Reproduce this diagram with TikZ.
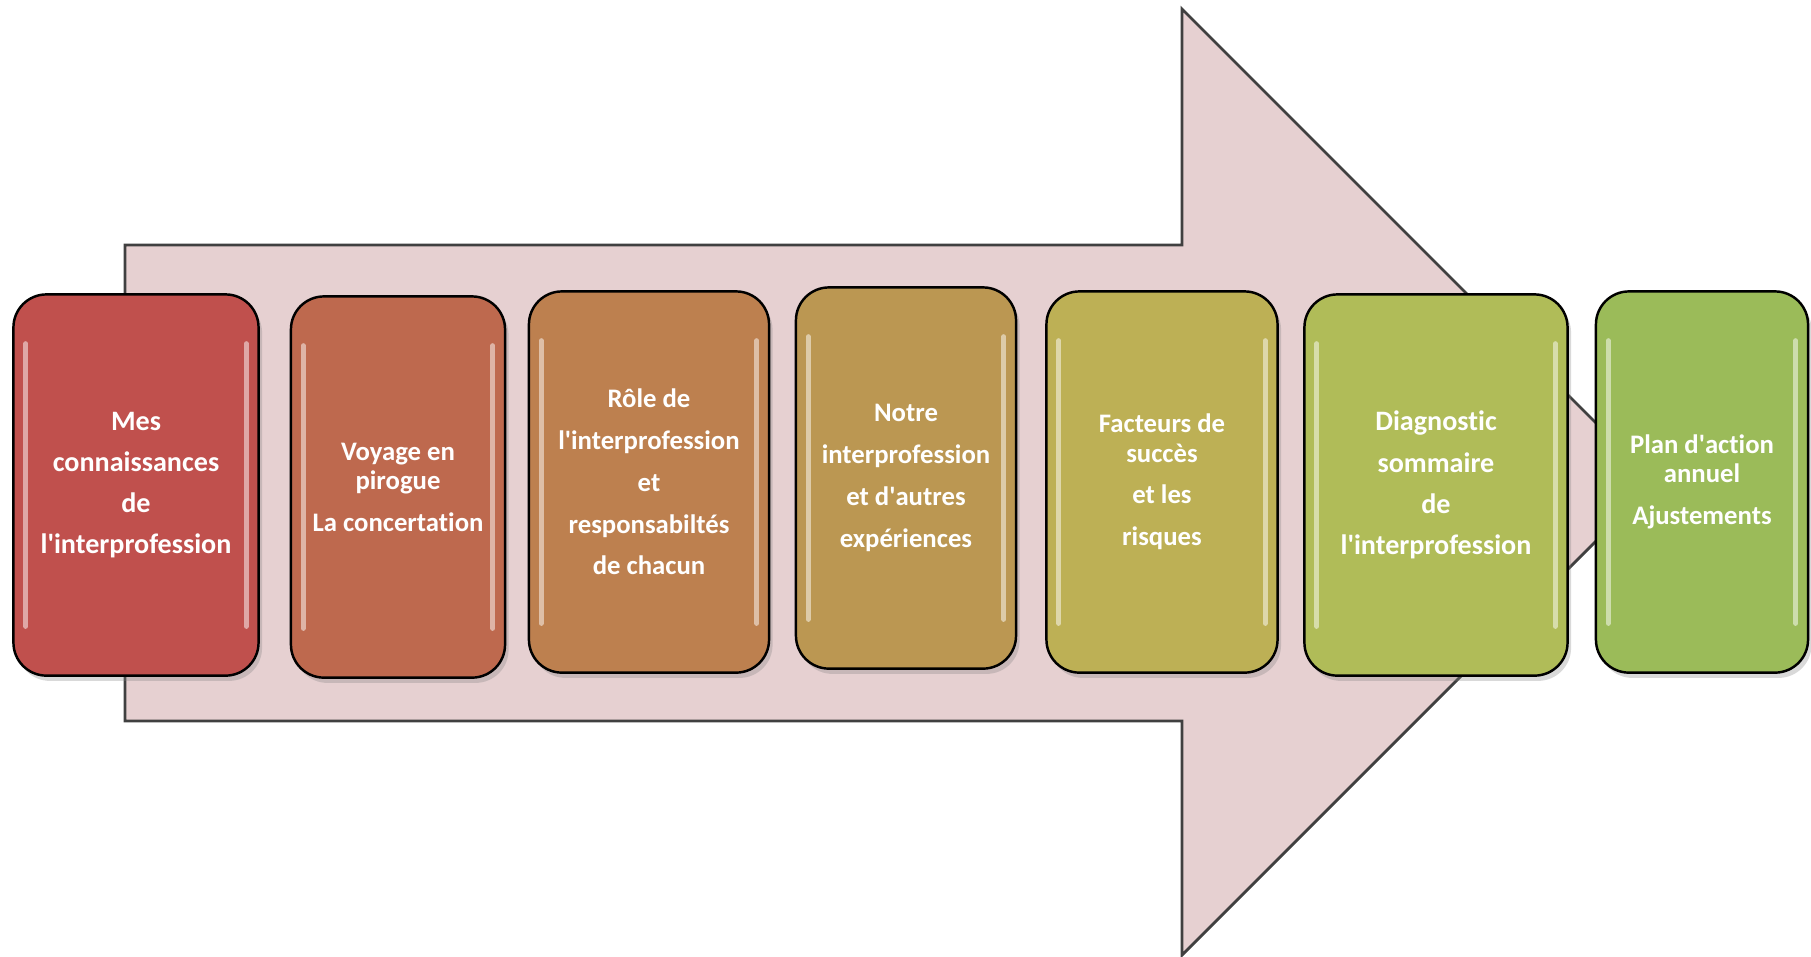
\documentclass[tikz,border=0pt]{standalone}
\usepackage{fontspec}
\setmainfont{Carlito}[Ligatures=NoCommon]
\usetikzlibrary{shadows}
\definecolor{stepa}{HTML}{C0504D}
\definecolor{stepb}{HTML}{BE694E}
\definecolor{stepc}{HTML}{BD804F}
\definecolor{stepd}{HTML}{BB9752}
\definecolor{stepe}{HTML}{BDB055}
\definecolor{stepf}{HTML}{B0BC58}
\definecolor{stepg}{HTML}{9BBB59}
\definecolor{arrowpink}{HTML}{E6D0D1}
\newcommand{\ap}{\textquotesingle}

\begin{document}
\begin{tikzpicture}[x=0.01cm, y=-0.01cm, align=center,
	stepbox/.style={rectangle, rounded corners=0.33cm, draw=black, line width=0.7pt, minimum height=3.81cm, text=white,
		font=\fontsize{8}{8.3}\selectfont\bfseries,
		drop shadow={shadow xshift=1pt, shadow yshift=-1.5pt, opacity=0.3},
		path picture={\draw[white, opacity=0.5, line width=1.4pt, line cap=round]
			([xshift=3.5pt,yshift=-14pt]path picture bounding box.north west) -- ([xshift=3.5pt,yshift=14pt]path picture bounding box.south west)
			([xshift=-3.5pt,yshift=-14pt]path picture bounding box.north east) -- ([xshift=-3.5pt,yshift=14pt]path picture bounding box.south east);}},
	smalltext/.style={font=\fontsize{7.6}{8.3}\selectfont\bfseries}]
	\useasboundingbox (0,0) rectangle (1811,956);
	% big arrow behind the steps
	\draw[draw=black!75, fill=arrowpink, line width=0.8pt] (125,245) -- (1182,245) -- (1182,9) -- (1655,482) -- (1182,955) -- (1182,721) -- (125,721) -- cycle;
	\node[stepbox, fill=stepa, minimum width=2.45cm](s1) at (136,485){Mes\\[3.4pt]connaissances\\[3.4pt]de\\[3.4pt]l\ap interprofession};
	\node[stepbox, smalltext, fill=stepb, minimum width=2.14cm](s2) at (398,487){Voyage en\\pirogue\\[3.6pt]La concertation};
	\node[stepbox, smalltext, fill=stepc, minimum width=2.40cm](s3) at (649,482){Rôle de\\[3.6pt]l\ap interprofession\\[3.6pt]et\\[3.6pt]responsabiltés\\[3.6pt]de chacun};
	\node[stepbox, smalltext, fill=stepd, minimum width=2.20cm](s4) at (906,478){Notre\\[3.6pt]interprofession\\[3.6pt]et d\ap autres\\[3.6pt]expériences};
	\node[stepbox, smalltext, fill=stepe, minimum width=2.31cm](s5) at (1162,482){Facteurs de\\succès\\[3.6pt]et les\\[3.6pt]risques};
	\node[stepbox, fill=stepf, minimum width=2.63cm](s6) at (1436,485){Diagnostic\\[3.4pt]sommaire\\[3.4pt]de\\[3.4pt]l\ap interprofession};
	\node[stepbox, smalltext, fill=stepg, minimum width=2.12cm](s7) at (1702,482){Plan d\ap action\\annuel\\[3.6pt]Ajustements};
\end{tikzpicture}
\end{document}
